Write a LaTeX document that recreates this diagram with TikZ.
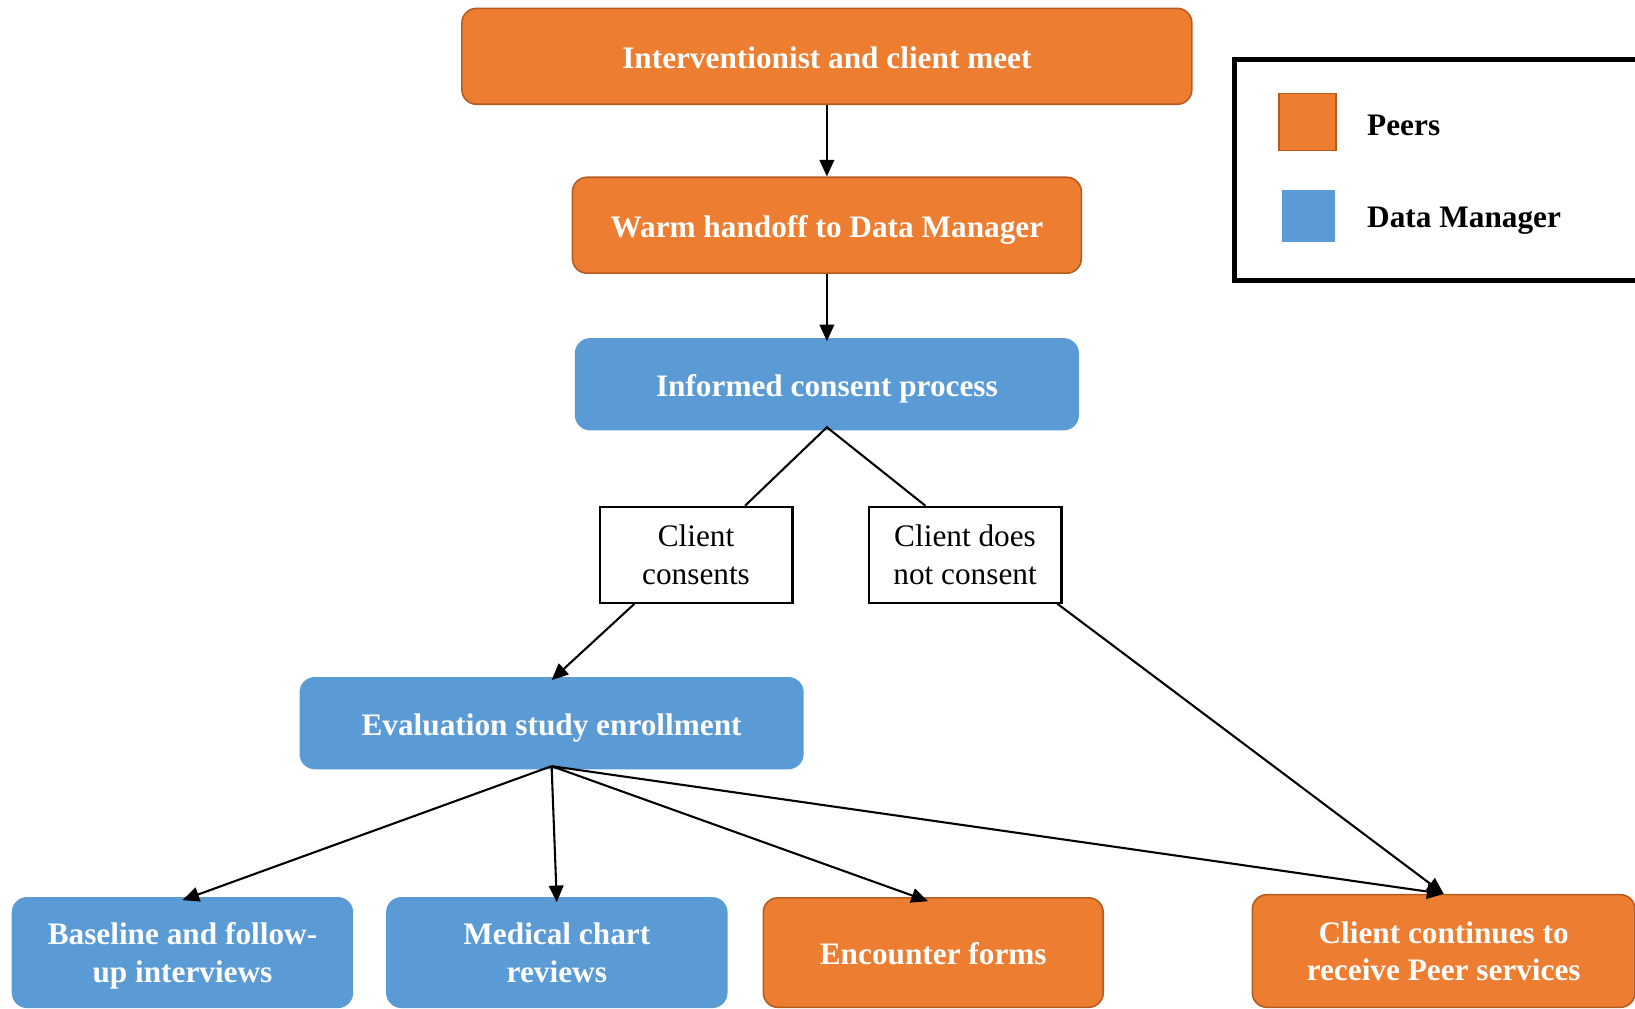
\documentclass[tikz,border=0pt]{standalone}
\usepackage{fontspec}
\setmainfont{Liberation Serif}
\usetikzlibrary{arrows.meta,positioning}
\definecolor{peer}{HTML}{ED7D31}
\definecolor{peerline}{HTML}{B55B1F}
\definecolor{dm}{HTML}{5B9BD5}
\begin{document}
\begin{tikzpicture}[x=1pt,y=-1pt,
  box/.style={rounded corners=14pt, line width=1.5pt, inner sep=0pt, align=center,
    text=white, font=\fontsize{30}{36}\selectfont\bfseries},
  oneline/.style={text height=30pt, text depth=7pt},
  twoline/.style={text height=64pt, text depth=7pt},
  peerbox/.style={box, fill=peer, draw=peerline},
  dmbox/.style={box, fill=dm, draw=dm},
  choice/.style={draw=black, line width=2pt, fill=white, inner sep=0pt, align=center,
    minimum width=185pt, minimum height=92pt, font=\fontsize{30}{36}\selectfont},
  conn/.style={line width=2pt, draw=black},
  arr/.style={conn, -{Triangle[length=16pt,width=14pt]}},
  legtext/.style={anchor=west, inner sep=0pt, font=\fontsize{30}{36}\selectfont\bfseries}
]
\useasboundingbox (0,0) rectangle (1568,967);

\node[peerbox, oneline, minimum width=700pt, minimum height=92pt] (meet) at (793,54) {Interventionist and client meet};
\node[peerbox, oneline, minimum width=488pt, minimum height=92pt] (hand) at (793,216) {Warm handoff to Data Manager};
\node[dmbox, oneline, minimum width=482pt, minimum height=87pt] (icp) at (793,368.5) {Informed consent process};
\node[choice] (cc) at (667.5,532) {Client\\consents};
\node[choice] (nc) at (925.5,532) {Client does\\not consent};
\node[dmbox, oneline, minimum width=482pt, minimum height=87pt] (ev) at (529,693.5) {Evaluation study enrollment};
\node[dmbox, twoline, minimum width=326pt, minimum height=105pt] (bl) at (175,913.5) {Baseline and follow-\\up interviews};
\node[dmbox, twoline, minimum width=326pt, minimum height=105pt] (md) at (534,913.5) {Medical chart\\reviews};
\node[peerbox, oneline, minimum width=326pt, minimum height=105pt] (en) at (895,913.5) {Encounter forms};
\node[peerbox, twoline, minimum width=367pt, minimum height=108pt] (cp) at (1384.5,912) {Client continues to\\receive Peer services};

% legend
\draw[line width=5pt] (1184,57) rectangle (1590,269);
\node[draw=peerline, fill=peer, line width=1.5pt, minimum width=55pt, minimum height=55pt, inner sep=0pt] (lp) at (1254,117) {};
\node[fill=dm, minimum width=51pt, minimum height=50pt, inner sep=0pt] (ld) at (1254.5,207) {};
\node[legtext] (lpt) at (1311,120) {Peers};
\node[legtext] (ldt) at (1311,212) {Data Manager};

% connectors
\draw[arr] (meet.south) -- (hand.north);
\draw[arr] (hand.south) -- ([yshift=-3pt]icp.north);
\coordinate (split) at ([yshift=3pt]icp.south);
\draw[conn] ([xshift=47pt]cc.north) -- (split) -- ([xshift=-38pt]nc.north);
\draw[arr] ([xshift=-59pt]cc.south) -- ([yshift=-3pt]ev.north);
\draw[arr] ([xshift=-5pt]nc.south east) -- (cp.north);
\coordinate (fan) at ([yshift=3pt]ev.south);
\draw[arr] (fan) -- ([yshift=-3pt]bl.north);
\draw[arr] (fan) -- ([yshift=-5pt]md.north);
\draw[arr] (fan) -- ([xshift=-5pt,yshift=-4pt]en.north);
\draw[arr] (fan) -- (cp.north);
\end{tikzpicture}
\end{document}
